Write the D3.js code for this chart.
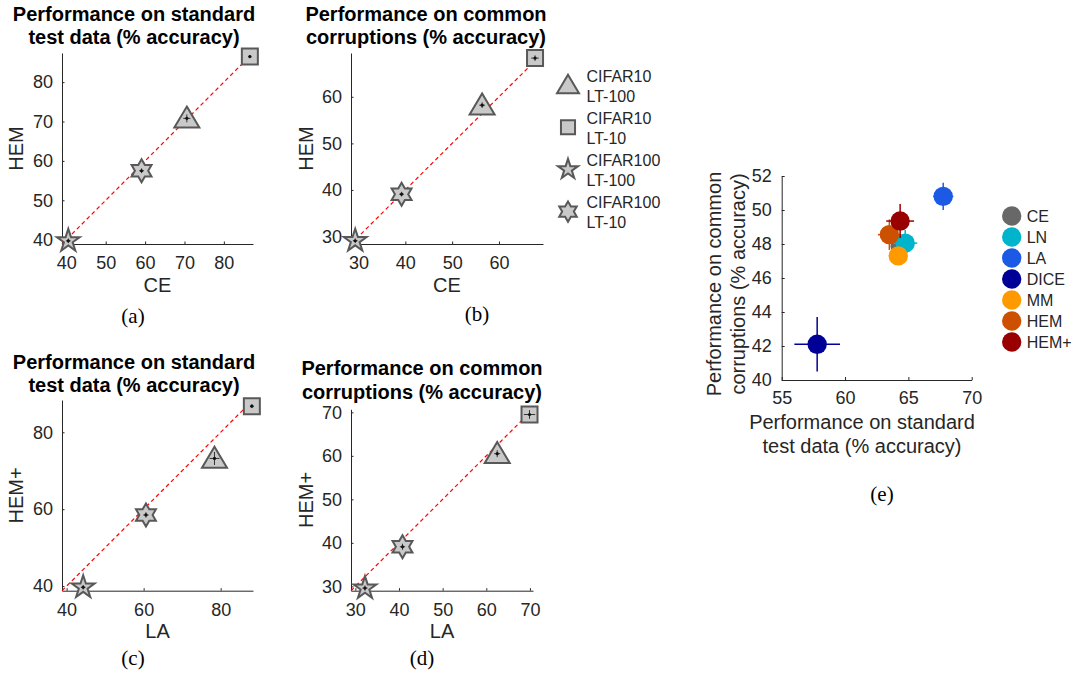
<!DOCTYPE html>
<html><head><meta charset="utf-8">
<script src="https://cdn.jsdelivr.net/npm/d3@7"></script>
<style>
body{margin:0;background:#fff}
svg{display:block}
text{font-family:"Liberation Sans",Arial,Helvetica,sans-serif}
</style>
</head><body>
<svg id="chart" width="1075" height="677"></svg>
<script>
// ---------- data ----------
const datasets = ["CIFAR10 LT-100", "CIFAR10 LT-10", "CIFAR100 LT-100", "CIFAR100 LT-10"];
const datasetLine1 = ["CIFAR10", "CIFAR10", "CIFAR100", "CIFAR100"];
const datasetLine2 = ["LT-100", "LT-10", "LT-100", "LT-10"];
const shapes = ["triangle", "square", "pentagram", "hexagram"];

// (a) standard test data: CE vs HEM
const aX = [70.6, 86.6, 40.5, 59.1];
const aY = [70.8, 86.5, 39.7, 57.5];
const aXErr = [0.9, 0.4, 0.6, 0.6];
const aYErr = [1.0, 0.4, 0.6, 0.6];
const aLim = [38.9, 87.4];
const aTicks = [40, 50, 60, 70, 80];

// (b) common corruptions: CE vs HEM
const bX = [56.4, 67.7, 29.3, 39.2];
const bY = [58.2, 68.3, 29.1, 39.1];
const bXErr = [0.6, 0.8, 0.5, 0.5];
const bYErr = [0.6, 0.6, 0.5, 0.5];
const bLim = [28.4, 69.4];
const bTicks = [30, 40, 50, 60];

// (c) standard test data: LA vs HEM+
const cX = [78.4, 88.1, 44.3, 60.6];
const cY = [73.2, 86.8, 39.7, 58.5];
const cXErr = [1.3, 0.5, 0.6, 0.7];
const cYErr = [1.7, 0.5, 0.6, 0.7];
const cLim = [38.8, 88.4];
const cTicks = [40, 60, 80];

// (d) common corruptions: LA vs HEM+
const dX = [62.5, 69.9, 32.2, 40.8];
const dY = [60.5, 69.5, 29.6, 39.1];
const dXErr = [0.7, 1.3, 0.6, 0.6];
const dYErr = [0.8, 1.0, 0.6, 0.7];
const dLim = [29.0, 70.7];
const dTicks = [30, 40, 50, 60, 70];

// (e) mean over datasets
const methods = ["CE", "LN", "LA", "DICE", "MM", "HEM", "HEM+"];
const methodColors = ["#686868", "#00b4cc", "#1c5ae6", "#000096", "#ff9900", "#cc5000", "#990000"];
const eStd = [64.35, 64.75, 67.75, 57.8, 64.2, 63.5, 64.35];
const eCorr = [47.88, 48.05, 50.8, 42.1, 47.3, 48.55, 49.35];
const eStdErr = [0.5, 0.95, 0.8, 1.8, 0.5, 0.9, 1.1];
const eCorrErr = [0.5, 0.77, 0.8, 1.6, 0.5, 0.9, 1.0];
const eXLim = [55, 70];
const eYLim = [40, 52];
const eXTicks = [55, 60, 65, 70];
const eYTicks = [40, 42, 44, 46, 48, 50, 52];

// ---------- drawing ----------
const svg = d3.select("#chart");
svg.append("rect").attr("width", 1075).attr("height", 677).attr("fill", "#fff");
const AX = "#262626";

function starPath(n, R, r) {
  const pts = [];
  for (let i = 0; i < 2 * n; i++) {
    const rad = i % 2 === 0 ? R : r;
    const a = -Math.PI / 2 + i * Math.PI / n;
    pts.push([rad * Math.cos(a), rad * Math.sin(a)]);
  }
  return "M" + pts.map(p => p[0].toFixed(2) + "," + p[1].toFixed(2)).join("L") + "Z";
}
function markerPath(shape, k) {
  if (shape === "triangle") {
    const w = 25 * k, h = 21 * k;
    return `M0,${-h * 0.56}L${w / 2},${h * 0.44}L${-w / 2},${h * 0.44}Z`;
  }
  if (shape === "square") {
    const s = 16 * k / 2;
    return `M${-s},${-s}H${s}V${s}H${-s}Z`;
  }
  if (shape === "pentagram") return starPath(5, 12 * k, 12 * k * 0.382);
  return starPath(6, 11.5 * k, 11.5 * k * 0.577);
}

function styleAxis(g, fs) {
  g.select(".domain").attr("stroke", AX).attr("stroke-width", 1);
  g.selectAll(".tick line").attr("stroke", AX).attr("stroke-width", 1);
  g.selectAll(".tick text").attr("fill", AX).style("font-size", fs + "px")
    .style("font-family", '"Liberation Sans", Arial, sans-serif');
}

function smallPanel(p) {
  const x = d3.scaleLinear().domain(p.lim).range([p.x0, p.x1]);
  const y = d3.scaleLinear().domain(p.lim).range([p.y1, p.y0]);
  const g = svg.append("g");
  // axes
  const gx = g.append("g").attr("transform", `translate(0,${p.y1})`)
    .call(d3.axisBottom(x).tickValues(p.ticks).tickSizeInner(-2.5).tickSizeOuter(0).tickPadding(12.2).tickFormat(d3.format("d")));
  styleAxis(gx, 18);
  const gy = g.append("g").attr("transform", `translate(${p.x0},0)`)
    .call(d3.axisLeft(y).tickValues(p.ticks).tickSizeInner(-2.5).tickSizeOuter(0).tickPadding(9).tickFormat(d3.format("d")));
  styleAxis(gy, 18);
  // diagonal
  g.append("line").attr("x1", x(p.lim[0])).attr("y1", y(p.lim[0]))
    .attr("x2", x(p.lim[1])).attr("y2", y(p.lim[1]))
    .attr("stroke", "#ff0000").attr("stroke-width", 1.2).attr("stroke-dasharray", "4,3");
  // markers
  const idx = d3.range(p.xs.length);
  idx.forEach(i => {
    const cx = x(p.xs[i]), cy = y(p.ys[i]);
    const mg = g.append("g");
    mg.append("path").attr("d", markerPath(shapes[i], 1)).attr("transform", `translate(${cx},${cy})`)
      .attr("fill", "#c9c9c9").attr("stroke", "#585858").attr("stroke-width", 2).attr("stroke-linejoin", "miter");
    mg.append("line").attr("x1", x(p.xs[i] - p.xe[i])).attr("x2", x(p.xs[i] + p.xe[i]))
      .attr("y1", cy).attr("y2", cy).attr("stroke", "#222").attr("stroke-width", 0.9);
    mg.append("line").attr("y1", y(p.ys[i] - p.ye[i])).attr("y2", y(p.ys[i] + p.ye[i]))
      .attr("x1", cx).attr("x2", cx).attr("stroke", "#222").attr("stroke-width", 0.9);
    mg.append("circle").attr("cx", cx).attr("cy", cy).attr("r", 1.6).attr("fill", "#111");
  });
  // title
  const t = g.append("text").attr("text-anchor", "middle").attr("font-weight", "bold")
    .style("font-size", "20px").attr("fill", "#000");
  t.append("tspan").attr("x", p.tx).attr("y", p.ty1).text(p.title[0]);
  t.append("tspan").attr("x", p.tx).attr("y", p.ty2).text(p.title[1]);
  // labels
  g.append("text").attr("x", (p.x0 + p.x1) / 2).attr("y", p.xlY).attr("text-anchor", "middle")
    .style("font-size", "20px").attr("fill", AX).text(p.xlab);
  g.append("text").attr("transform", `translate(${p.ylX},${(p.y0 + p.y1) / 2}) rotate(-90)`)
    .attr("text-anchor", "middle").style("font-size", "20px").attr("fill", AX).text(p.ylab);
  // subcaption
  g.append("text").attr("x", p.capX).attr("y", p.capY).attr("text-anchor", "middle")
    .style("font-family", '"Liberation Serif", "Times New Roman", serif').style("font-size", "21px")
    .attr("fill", "#000").text(p.cap);
}

const stdTitle = ["Performance on standard", "test data (% accuracy)"];
const corTitle = ["Performance on common", "corruptions (% accuracy)"];

smallPanel({xs: aX, ys: aY, xe: aXErr, ye: aYErr, lim: aLim, ticks: aTicks,
  x0: 62, x1: 253, y0: 53, y1: 244, title: stdTitle, tx: 134, ty1: 21, ty2: 44,
  xlab: "CE", ylab: "HEM", xlY: 292, ylX: 23, cap: "(a)", capX: 133, capY: 323});
smallPanel({xs: bX, ys: bY, xe: bXErr, ye: bYErr, lim: bLim, ticks: bTicks,
  x0: 351, x1: 543, y0: 53, y1: 244, title: corTitle, tx: 426, ty1: 21, ty2: 43.5,
  xlab: "CE", ylab: "HEM", xlY: 292, ylX: 312.5, cap: "(b)", capX: 477, capY: 321});
smallPanel({xs: cX, ys: cY, xe: cXErr, ye: cYErr, lim: cLim, ticks: cTicks,
  x0: 62, x1: 253, y0: 400, y1: 590.7, title: stdTitle, tx: 134, ty1: 369, ty2: 392,
  xlab: "LA", ylab: "HEM+", xlY: 638, ylX: 23, cap: "(c)", capX: 133, capY: 665});
smallPanel({xs: dX, ys: dY, xe: dXErr, ye: dYErr, lim: dLim, ticks: dTicks,
  x0: 351, x1: 533, y0: 409.3, y1: 590.7, title: corTitle, tx: 422, ty1: 375, ty2: 399,
  xlab: "LA", ylab: "HEM+", xlY: 638, ylX: 312.5, cap: "(d)", capX: 422, capY: 665});

// middle legend
const legY0 = 85, legStep = 42.2;
datasets.forEach((d, i) => {
  const cy = legY0 + i * legStep;
  svg.append("path").attr("d", markerPath(shapes[i], 0.88)).attr("transform", `translate(568,${cy})`)
    .attr("fill", "#c9c9c9").attr("stroke", "#585858").attr("stroke-width", 2);
  const t = svg.append("text").style("font-size", "16px").attr("fill", AX);
  t.append("tspan").attr("x", 586.5).attr("y", cy - 3.5).text(datasetLine1[i]);
  t.append("tspan").attr("x", 586.5).attr("y", cy + 16.5).text(datasetLine2[i]);
});

// panel (e)
(function () {
  const x = d3.scaleLinear().domain(eXLim).range([781.7, 971.7]);
  const y = d3.scaleLinear().domain(eYLim).range([380, 176]);
  const g = svg.append("g");
  const gx = g.append("g").attr("transform", "translate(0,380)")
    .call(d3.axisBottom(x).tickValues(eXTicks).tickSizeInner(-3).tickSizeOuter(0).tickPadding(11.2));
  styleAxis(gx, 18);
  const gy = g.append("g").attr("transform", "translate(781.7,0)")
    .call(d3.axisLeft(y).tickValues(eYTicks).tickSizeInner(-3).tickSizeOuter(0).tickPadding(10));
  styleAxis(gy, 18);
  methods.forEach((m, i) => {
    const cx = x(eStd[i]), cy = y(eCorr[i]);
    const mg = g.append("g");
    mg.append("line").attr("x1", x(eStd[i] - eStdErr[i])).attr("x2", x(eStd[i] + eStdErr[i]))
      .attr("y1", cy).attr("y2", cy).attr("stroke", methodColors[i]).attr("stroke-width", 1.5);
    mg.append("line").attr("y1", y(eCorr[i] - eCorrErr[i])).attr("y2", y(eCorr[i] + eCorrErr[i]))
      .attr("x1", cx).attr("x2", cx).attr("stroke", methodColors[i]).attr("stroke-width", 1.5);
    mg.append("circle").attr("cx", cx).attr("cy", cy).attr("r", 9.7).attr("fill", methodColors[i]);
  });
  const xl = g.append("text").attr("text-anchor", "middle").style("font-size", "20px").attr("fill", AX);
  xl.append("tspan").attr("x", 862).attr("y", 429).text("Performance on standard");
  xl.append("tspan").attr("x", 862).attr("y", 453).text("test data (% accuracy)");
  const yl = g.append("text").attr("text-anchor", "middle").style("font-size", "20px").attr("fill", AX)
    .attr("transform", "translate(0,284) rotate(-90)");
  yl.append("tspan").attr("x", 0).attr("y", 721).text("Performance on common");
  yl.append("tspan").attr("x", 0).attr("y", 745).text("corruptions (% accuracy)");
  // legend
  methods.forEach((m, i) => {
    const cy = 216 + i * 21;
    g.append("circle").attr("cx", 1011.7).attr("cy", cy).attr("r", 9.7).attr("fill", methodColors[i]);
    g.append("text").attr("x", 1026.7).attr("y", cy + 6).style("font-size", "16px").attr("fill", AX).text(m);
  });
  g.append("text").attr("x", 882).attr("y", 501).attr("text-anchor", "middle")
    .style("font-family", '"Liberation Serif", "Times New Roman", serif').style("font-size", "21px")
    .attr("fill", "#000").text("(e)");
})();
</script>
</body></html>
